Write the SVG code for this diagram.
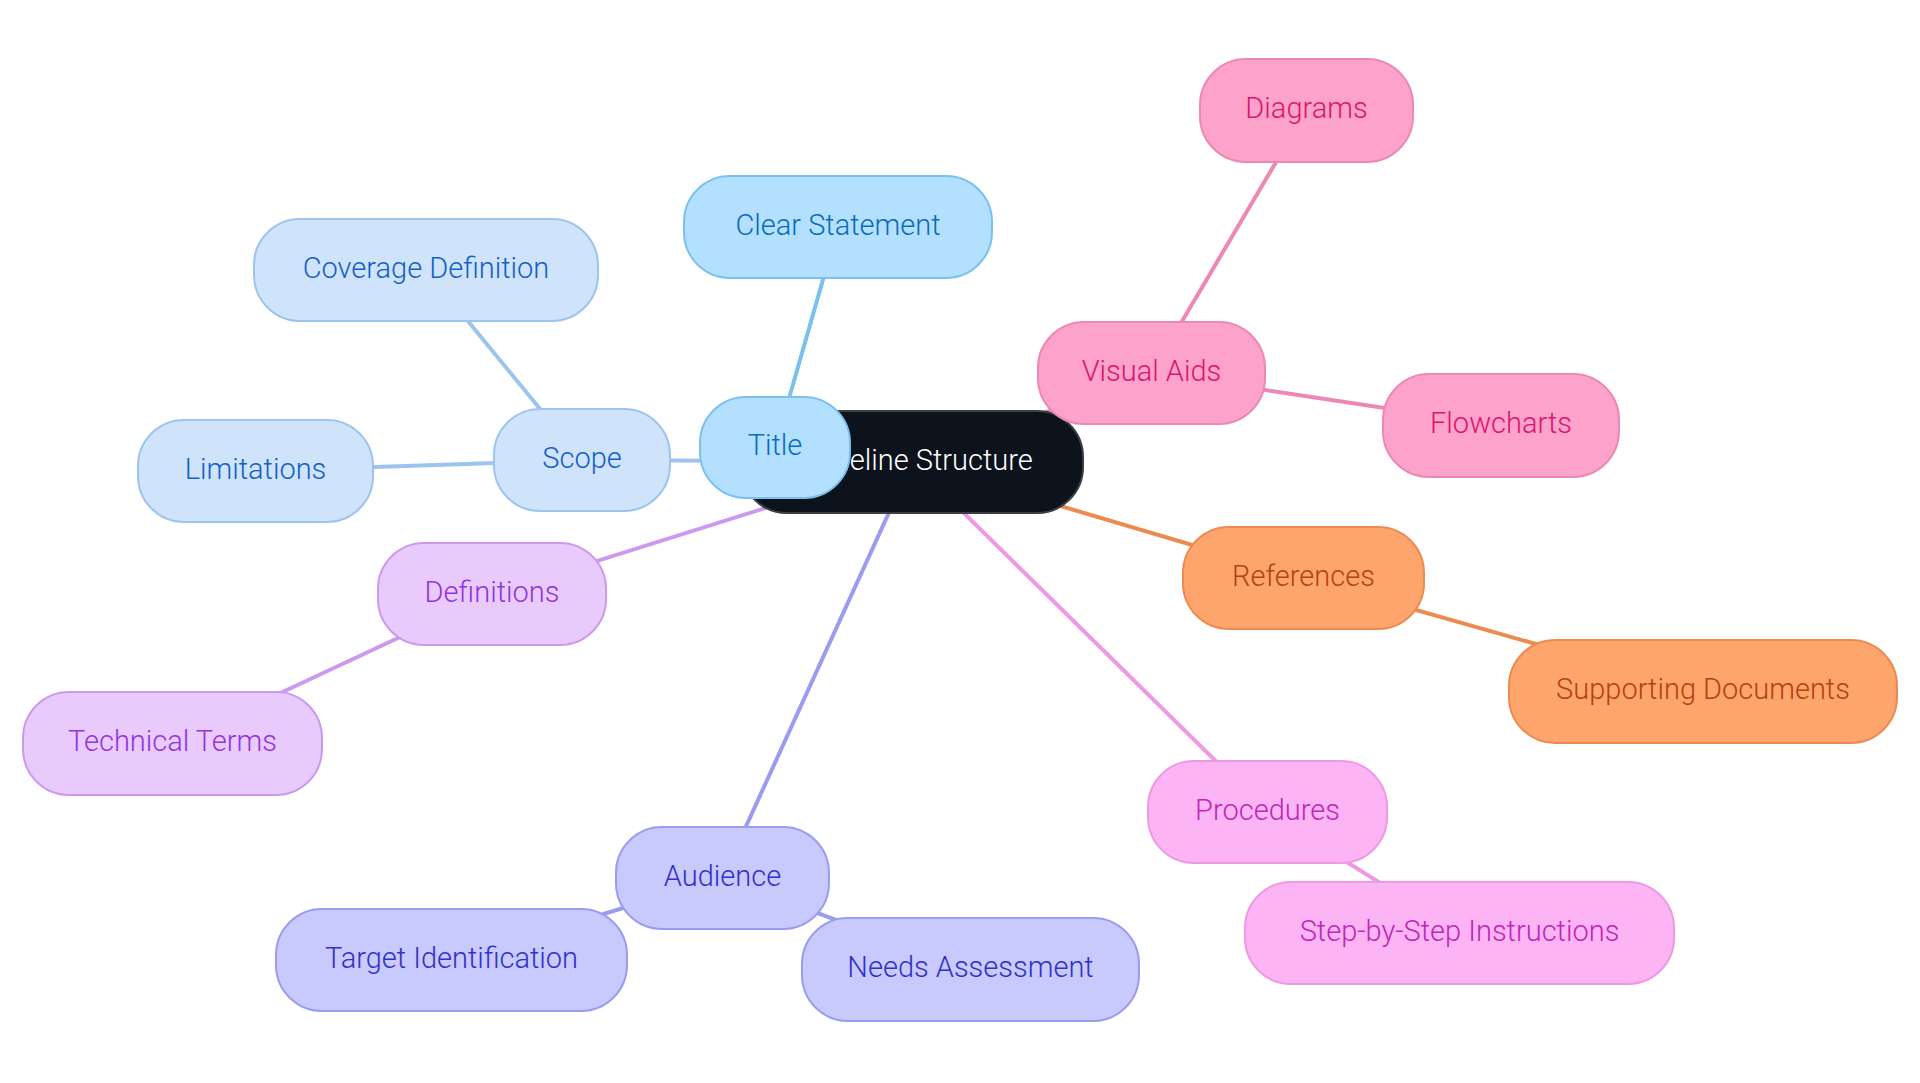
<svg xmlns="http://www.w3.org/2000/svg" width="1920" height="1083" viewBox="0 0 1920 1083">
<style>
text{font-family:Roboto,"Liberation Sans",sans-serif;font-size:29px;font-weight:300;text-anchor:middle}
.n rect{stroke-width:2}
.e line{stroke-width:4;stroke-linecap:round}
.root rect{fill:#0c131c;stroke:#3a3f45}
.root text{fill:#ffffff}
.t rect{fill:#b3e0fe;stroke:#7cc0f0}
.t text{fill:#0b6bc0}
.s rect{fill:#cfe3fb;stroke:#9dc4ee}
.s text{fill:#1560c8}
.d rect{fill:#e8cafd;stroke:#cc99f0}
.d text{fill:#9334e0}
.a rect{fill:#c8c9fc;stroke:#9a9cf0}
.a text{fill:#3131c9}
.p rect{fill:#fdb4f5;stroke:#ef99e4}
.p text{fill:#c026b5}
.r rect{fill:#fea56e;stroke:#ec8a4f}
.r text{fill:#b5420b}
.v rect{fill:#fda2cb;stroke:#ec87b6}
.v text{fill:#db146e}
</style>
<rect width="1920" height="1083" fill="#ffffff"/>
<g id="connectors" class="e">
<line x1="912" y1="462" x2="775" y2="447.5" stroke="#7cc0f0"/>
<line x1="775" y1="447.5" x2="838" y2="227" stroke="#7cc0f0"/>
<line x1="912" y1="462" x2="582" y2="460" stroke="#9dc4ee"/>
<line x1="582" y1="460" x2="426" y2="270" stroke="#9dc4ee"/>
<line x1="582" y1="460" x2="255.5" y2="471" stroke="#9dc4ee"/>
<line x1="912" y1="462" x2="492" y2="594" stroke="#cc99f0"/>
<line x1="492" y1="594" x2="172.5" y2="743.5" stroke="#cc99f0"/>
<line x1="912" y1="462" x2="722.5" y2="878" stroke="#9a9cf0"/>
<line x1="722.5" y1="878" x2="451.5" y2="960" stroke="#9a9cf0"/>
<line x1="722.5" y1="878" x2="970.5" y2="969.5" stroke="#9a9cf0"/>
<line x1="912" y1="462" x2="1267.5" y2="812" stroke="#ef99e4"/>
<line x1="1267.5" y1="812" x2="1459.5" y2="933" stroke="#ef99e4"/>
<line x1="912" y1="462" x2="1303.5" y2="578" stroke="#ec8a4f"/>
<line x1="1303.5" y1="578" x2="1703" y2="691.5" stroke="#ec8a4f"/>
<line x1="912" y1="462" x2="1151.5" y2="373" stroke="#ec87b6"/>
<line x1="1151.5" y1="373" x2="1306.5" y2="110.5" stroke="#ec87b6"/>
<line x1="1151.5" y1="373" x2="1501" y2="425.5" stroke="#ec87b6"/>
</g>
<g id="root" class="n root"><rect x="741" y="411" width="342" height="102" rx="46"/><text x="912" y="469.5">Guideline Structure</text></g>
<g id="title" class="n t"><rect x="700" y="397" width="150" height="101" rx="46"/><text x="775" y="455">Title</text></g>
<g id="clear-statement" class="n t"><rect x="684" y="176" width="308" height="102" rx="46"/><text x="838" y="234.5">Clear Statement</text></g>
<g id="scope" class="n s"><rect x="494" y="409" width="176" height="102" rx="46"/><text x="582" y="467.5">Scope</text></g>
<g id="coverage-definition" class="n s"><rect x="254" y="219" width="344" height="102" rx="46"/><text x="426" y="277.5">Coverage Definition</text></g>
<g id="limitations" class="n s"><rect x="138" y="420" width="235" height="102" rx="46"/><text x="255.5" y="478.5">Limitations</text></g>
<g id="definitions" class="n d"><rect x="378" y="543" width="228" height="102" rx="46"/><text x="492" y="601.5">Definitions</text></g>
<g id="technical-terms" class="n d"><rect x="23" y="692" width="299" height="103" rx="46"/><text x="172.5" y="751">Technical Terms</text></g>
<g id="audience" class="n a"><rect x="616" y="827" width="213" height="102" rx="46"/><text x="722.5" y="885.5">Audience</text></g>
<g id="target-identification" class="n a"><rect x="276" y="909" width="351" height="102" rx="46"/><text x="451.5" y="967.5">Target Identification</text></g>
<g id="needs-assessment" class="n a"><rect x="802" y="918" width="337" height="103" rx="46"/><text x="970.5" y="977">Needs Assessment</text></g>
<g id="procedures" class="n p"><rect x="1148" y="761" width="239" height="102" rx="46"/><text x="1267.5" y="819.5">Procedures</text></g>
<g id="step-by-step" class="n p"><rect x="1245" y="882" width="429" height="102" rx="46"/><text x="1459.5" y="940.5">Step-by-Step Instructions</text></g>
<g id="references" class="n r"><rect x="1183" y="527" width="241" height="102" rx="46"/><text x="1303.5" y="585.5">References</text></g>
<g id="supporting-documents" class="n r"><rect x="1509" y="640" width="388" height="103" rx="46"/><text x="1703" y="699">Supporting Documents</text></g>
<g id="visual-aids" class="n v"><rect x="1038" y="322" width="227" height="102" rx="46"/><text x="1151.5" y="380.5">Visual Aids</text></g>
<g id="diagrams" class="n v"><rect x="1200" y="59" width="213" height="103" rx="46"/><text x="1306.5" y="118">Diagrams</text></g>
<g id="flowcharts" class="n v"><rect x="1383" y="374" width="236" height="103" rx="46"/><text x="1501" y="433">Flowcharts</text></g>
</svg>
